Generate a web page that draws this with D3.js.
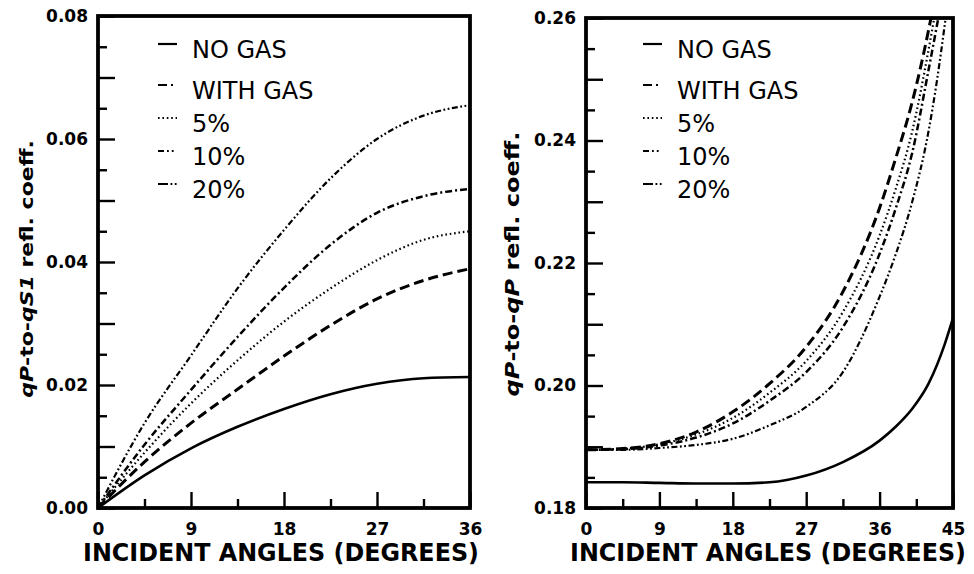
<!DOCTYPE html>
<html>
<head>
<meta charset="utf-8">
<script src="https://cdn.jsdelivr.net/npm/d3@7"></script>
<style>
  body { margin: 0; background: #fff; }
  svg { display: block; background: #fff; }
  .tick text { font-family: "DejaVu Sans", sans-serif; font-weight: bold; font-size: 17px; fill: #000; }
  .tick line { stroke: #000; stroke-width: 2.4; }
  .domain { display: none; }
</style>
</head>
<body>
<svg width="974" height="574"></svg>
<script>
// legend labels, same in both panels
var seriesNames = ["NO GAS", "WITH GAS", "5%", "10%", "20%"];

// left panel: qP-to-qS1 reflection coefficient
var angleS1   = [0, 4.5, 9, 13.5, 18, 22.5, 27, 31.5, 36];
var s1NoGas   = [0, 0.0053, 0.0097, 0.0132, 0.0161, 0.0185, 0.0202, 0.0211, 0.0213];
var s1WithGas = [0, 0.0075, 0.0138, 0.0193, 0.0247, 0.0297, 0.0340, 0.0370, 0.0389];
var s1Gas5    = [0, 0.0090, 0.0170, 0.0240, 0.0303, 0.0357, 0.0403, 0.0436, 0.0450];
var s1Gas10   = [0, 0.0103, 0.0192, 0.0278, 0.0358, 0.0428, 0.0480, 0.0507, 0.0519];
var s1Gas20   = [0, 0.0138, 0.0248, 0.0357, 0.0452, 0.0536, 0.0600, 0.0638, 0.0655];

// right panel: qP-to-qP reflection coefficient (gas curves leave the frame at the top)
var anglePNoGas   = [0, 4.5, 9, 13.5, 18, 22.5, 27, 31.5, 36, 38, 40, 42, 44, 45];
var pNoGas        = [0.1842, 0.1842, 0.1841, 0.1840, 0.1840, 0.1842, 0.1853, 0.1875, 0.1910, 0.1933, 0.1962, 0.2003, 0.2068, 0.2110];
var anglePWithGas = [0, 4.5, 9, 13.5, 18, 22.5, 27, 31.5, 36, 38, 40, 42, 42.3];
var pWithGas      = [0.1895, 0.1897, 0.1905, 0.1924, 0.1957, 0.2003, 0.2063, 0.2153, 0.2290, 0.2372, 0.2463, 0.2580, 0.2600];
var angleP5       = [0, 4.5, 9, 13.5, 18, 22.5, 27, 31.5, 36, 38, 40, 42, 42.7];
var pGas5         = [0.1895, 0.1897, 0.1904, 0.1920, 0.1947, 0.1988, 0.2040, 0.2120, 0.2245, 0.2322, 0.2415, 0.2548, 0.2600];
var angleP10      = [0, 4.5, 9, 13.5, 18, 22.5, 27, 31.5, 36, 38, 40, 42, 43.2];
var pGas10        = [0.1895, 0.1896, 0.1902, 0.1915, 0.1938, 0.1975, 0.2022, 0.2095, 0.2215, 0.2290, 0.2380, 0.2515, 0.2600];
var angleP20      = [0, 4.5, 9, 13.5, 18, 22.5, 27, 31.5, 36, 38, 40, 42, 43, 44.1];
var pGas20        = [0.1895, 0.1895, 0.1898, 0.1903, 0.1913, 0.1935, 0.1965, 0.2022, 0.2145, 0.2215, 0.2300, 0.2415, 0.2495, 0.2600];

// ticks
var s1YLabelTicks = [0, 0.02, 0.04, 0.06, 0.08];
var s1YLongTicks  = [0.01, 0.03, 0.05, 0.07];
var s1YShortTicks = [0.005, 0.015, 0.025, 0.035, 0.045, 0.055, 0.065, 0.075];
var s1XLabelTicks = [0, 9, 18, 27, 36];
var s1XShortTicks = [4.5, 13.5, 22.5, 31.5];

var pYLabelTicks = [0.18, 0.20, 0.22, 0.24, 0.26];
var pYLongTicks  = [0.19, 0.21, 0.23, 0.25];
var pYShortTicks = [0.185, 0.195, 0.205, 0.215, 0.225, 0.235, 0.245, 0.255];
var pXLabelTicks = [0, 9, 18, 27, 36, 45];
var pXShortTicks = [4.5, 13.5, 22.5, 31.5, 40.5];

// line styles, in legend order
var styles = [
    { dash: null,                    width: 2.6 },
    { dash: "10,5",                  width: 3.0 },
    { dash: "1.6,2.8",               width: 2.2 },
    { dash: "7,3,2,3",               width: 2.5 },
    { dash: "6,2.5,1.8,2.5,1.8,2.5", width: 2.2 }
];
// the legend keys are tiny, so they get their own short patterns
var legendDash = [null, "9,4,2,4", "1.6,2.8", "6,3,1.8,3,1.8", "10,2.5,1.8,2.5,1.8"];

var legendBaselines = [58, 99, 132, 165, 198];

var svg = d3.select("svg");

function zip(xs, ys) {
    return xs.map(function(x, i) { return { x: x, y: ys[i] }; });
}

function drawPanel(cfg) {
    let x = d3.scaleLinear().domain(cfg.xDomain).range([cfg.left, cfg.right]);
    let y = d3.scaleLinear().domain(cfg.yDomain).range([cfg.bottom, cfg.top]);

    let g = svg.append("g").attr("id", cfg.id);

    g.append("clipPath").attr("id", cfg.id + "-clip")
        .append("rect")
        .attr("x", cfg.left).attr("y", cfg.top)
        .attr("width", cfg.right - cfg.left).attr("height", cfg.bottom - cfg.top);

    let line = d3.line()
        .x(function(d) { return x(d.x); })
        .y(function(d) { return y(d.y); })
        .curve(d3.curveMonotoneX);

    g.append("g").attr("clip-path", "url(#" + cfg.id + "-clip)")
        .selectAll("path")
        .data(cfg.series)
        .enter().append("path")
        .attr("d", function(d) { return line(d); })
        .attr("fill", "none")
        .attr("stroke", "#000")
        .attr("stroke-width", function(d, i) { return styles[i].width; })
        .attr("stroke-dasharray", function(d, i) { return styles[i].dash; });

    // y ticks point into the frame
    let yAxisG = g.append("g").attr("transform", "translate(" + cfg.left + ",0)");
    yAxisG.append("g").call(d3.axisLeft(y).tickValues(cfg.yLabel).tickSize(-17).tickPadding(10).tickFormat(d3.format(".2f")));
    yAxisG.append("g").call(d3.axisLeft(y).tickValues(cfg.yLong).tickSize(-17).tickFormat(""));
    yAxisG.append("g").call(d3.axisLeft(y).tickValues(cfg.yShort).tickSize(-9).tickFormat(""));

    let xAxisG = g.append("g").attr("transform", "translate(0," + cfg.bottom + ")");
    xAxisG.append("g").call(d3.axisBottom(x).tickValues(cfg.xLabel).tickSize(-16).tickPadding(15).tickFormat(d3.format("d")));
    xAxisG.append("g").call(d3.axisBottom(x).tickValues(cfg.xShort).tickSize(-9).tickFormat(""));

    g.append("rect")
        .attr("x", cfg.left).attr("y", cfg.top)
        .attr("width", cfg.right - cfg.left).attr("height", cfg.bottom - cfg.top)
        .attr("fill", "none").attr("stroke", "#000").attr("stroke-width", 3.8);

    // x axis title
    let xt = g.append("text")
        .attr("text-anchor", "middle")
        .style("font-family", "DejaVu Sans, sans-serif")
        .style("font-weight", "bold")
        .style("font-size", "24px")
        .text("INCIDENT ANGLES (DEGREES)");
    let xtLen = xt.node().getComputedTextLength();
    xt.attr("transform", "translate(" + cfg.xTitleX + ",561) scale(" + (396 / xtLen) + ",1)");

    // y axis title, mixed italic
    let yt = g.append("text")
        .attr("text-anchor", "middle")
        .style("font-family", "DejaVu Sans, sans-serif")
        .style("font-weight", "bold")
        .style("font-size", cfg.yTitleSize + "px");
    cfg.yTitle.forEach(function(part) {
        yt.append("tspan").style("font-style", part[1] ? "italic" : "normal").text(part[0]);
    });
    let ytLen = yt.node().getComputedTextLength();
    yt.attr("transform", "translate(" + cfg.yTitleX + "," + cfg.yTitleY + ") rotate(-90) scale(" + (cfg.yTitleLen / ytLen) + ",1)");

    // legend
    let leg = g.append("g");
    seriesNames.forEach(function(name, i) {
        let by = legendBaselines[i];
        leg.append("line")
            .attr("x1", cfg.legendX).attr("x2", cfg.legendX + 19)
            .attr("y1", by - 14).attr("y2", by - 14)
            .attr("stroke", "#000")
            .attr("stroke-width", 2.2)
            .attr("stroke-dasharray", legendDash[i]);
        leg.append("text")
            .attr("x", cfg.legendX + 34).attr("y", by)
            .style("font-family", "DejaVu Sans, sans-serif")
            .style("font-size", "24px")
            .text(name);
    });
}

drawPanel({
    id: "s1",
    left: 98, right: 470, top: 16, bottom: 508,
    xDomain: [0, 36], yDomain: [0, 0.08],
    series: [zip(angleS1, s1NoGas), zip(angleS1, s1WithGas), zip(angleS1, s1Gas5), zip(angleS1, s1Gas10), zip(angleS1, s1Gas20)],
    yLabel: s1YLabelTicks, yLong: s1YLongTicks, yShort: s1YShortTicks,
    xLabel: s1XLabelTicks, xShort: s1XShortTicks,
    xTitleX: 281,
    yTitle: [["qP", true], ["-to-", false], ["qS1", true], [" refl. coeff.", false]],
    yTitleX: 33, yTitleY: 269, yTitleLen: 258, yTitleSize: 17,
    legendX: 158
});

drawPanel({
    id: "pp",
    left: 586, right: 953, top: 18, bottom: 508,
    xDomain: [0, 45], yDomain: [0.18, 0.26],
    series: [zip(anglePNoGas, pNoGas), zip(anglePWithGas, pWithGas), zip(angleP5, pGas5), zip(angleP10, pGas10), zip(angleP20, pGas20)],
    yLabel: pYLabelTicks, yLong: pYLongTicks, yShort: pYShortTicks,
    xLabel: pXLabelTicks, xShort: pXShortTicks,
    xTitleX: 768,
    yTitle: [["qP", true], ["-to-", false], ["qP", true], [" refl. coeff.", false]],
    yTitleX: 519, yTitleY: 264, yTitleLen: 265, yTitleSize: 19,
    legendX: 643
});
</script>
</body>
</html>
